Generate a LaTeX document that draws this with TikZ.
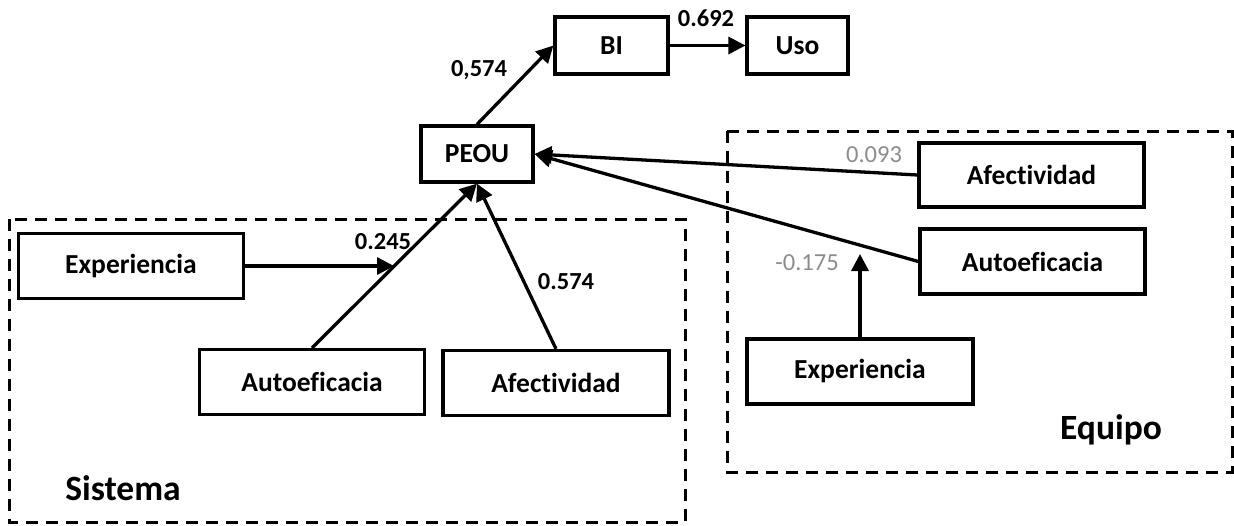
\documentclass[tikz,border=0pt]{standalone}
\usepackage{fontspec}
\setmainfont{Carlito}[Ligatures=NoCommon]
\usetikzlibrary{arrows.meta,calc}
\definecolor{coefgray}{HTML}{8C8C8C}
\begin{document}
\begin{tikzpicture}[x=1pt,y=-1pt,
  box/.style={draw,line width=3.2pt,minimum height=65pt,minimum width=225pt,inner sep=0pt,
    font=\fontsize{27.5}{32}\selectfont\bfseries},
  smallbox/.style={box,minimum height=57pt},
  arr/.style={line width=3.3pt,-{Triangle[length=17pt,width=17pt]}},
  group/.style={draw,line width=3pt,dash pattern=on 12pt off 8pt},
  coef/.style={font=\fontsize{24.5}{28}\selectfont\bfseries},
  coefg/.style={font=\fontsize{24.5}{28}\selectfont,text=coefgray},
  grouplabel/.style={font=\fontsize{35.5}{40}\selectfont\bfseries}]
\useasboundingbox (0,0) rectangle (1234,525);

% groups
\draw[group] (9,219) rectangle (685,522);
\draw[group] (727,131) rectangle (1232,472);
\node[grouplabel] (sistema) at (123,488) {Sistema};
\node[grouplabel] (equipo) at (1111,430) {Equipo};

% core model
\node[smallbox,minimum width=113pt] (bi) at (611.5,45.5) {BI};
\node[smallbox,minimum width=101pt] (uso) at (797.5,45.5) {Uso};
\node[box,minimum width=112pt,minimum height=56pt] (peou) at (477,154) {PEOU};

% Sistema
\node[box] (expS) at (131,266) {Experiencia};
\node[box] (autS) at (312,382) {Autoeficacia};
\node[box,minimum width=226pt] (afeS) at (556,383) {Afectividad};

% Equipo
\node[box,minimum height=64pt] (afeE) at (1031.5,175) {Afectividad};
\node[box] (autE) at (1032.5,261.5) {Autoeficacia};
\node[box,minimum width=226pt] (expE) at (860,371.5) {Experiencia};

% paths
\draw[arr] (peou.north) -- (bi.west);
\draw[arr] (bi.east) -- (uso.west);
\draw[arr] (autS.north) -- (peou.south);
\draw[arr] (afeS.north) -- (peou.south);
\coordinate (hit) at ($(autS.north)!0.497!(peou.south)$);
\draw[arr] (expS.east) -- (expS.east -| hit);
\draw[arr] (afeE.west) -- (peou.east);
\draw[arr] (autE.west) -- (peou.east);
\coordinate (modE) at (860,254);
\draw[arr] (expE.north) -- (modE);

% coefficients
\node[coef] (c1) at (479,70) {0,574};
\node[coef] (c2) at (706,18) {0.692};
\node[coef] (c3) at (383,242) {0.245};
\node[coef] (c4) at (566,282) {0.574};
\node[coefg] (c5) at (874,155) {0.093};
\node[coefg] (c6) at (807,263) {-0.175};
\end{tikzpicture}
\end{document}
